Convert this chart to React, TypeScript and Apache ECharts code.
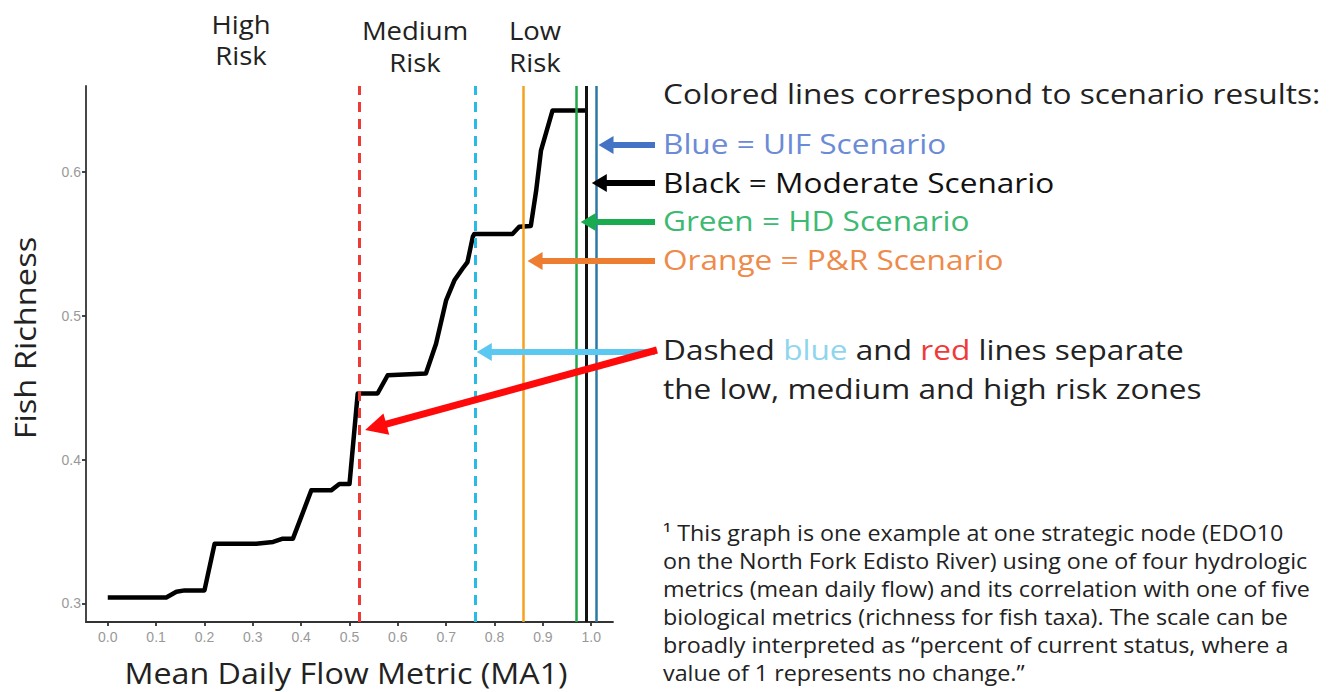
import React, { useEffect, useRef } from "react";
import * as echarts from "echarts";

// ---- Data ----
const flowMetric = [
  0, 0.121, 0.142, 0.159, 0.2, 0.221, 0.307, 0.342, 0.362, 0.383, 0.4, 0.421,
  0.462, 0.479, 0.5, 0.517, 0.521, 0.558, 0.579, 0.658, 0.679, 0.7, 0.717,
  0.734, 0.744, 0.755, 0.758, 0.837, 0.851, 0.875, 0.886, 0.896, 0.92, 0.992,
];
const fishRichness = [
  0.304, 0.304, 0.308, 0.309, 0.309, 0.3415, 0.3415, 0.3427, 0.345, 0.345,
  0.36, 0.3786, 0.3786, 0.383, 0.383, 0.446, 0.446, 0.446, 0.4587, 0.46,
  0.4807, 0.511, 0.5248, 0.533, 0.5375, 0.555, 0.557, 0.557, 0.562, 0.5626,
  0.587, 0.615, 0.643, 0.643,
];
const xTickValues = [0, 0.1, 0.2, 0.3, 0.4, 0.5, 0.6, 0.7, 0.8, 0.9, 1.0];
const yTickValues = [0.3, 0.4, 0.5, 0.6];
// risk-zone thresholds: high/medium (red dashed), medium/low (blue dashed)
const riskThresholds = [0.522, 0.755];
const riskColors = ["#ee3a36", "#2bb9e6"];
// scenario results (vertical solid lines)
const scenarioNames = ["P&R", "HD", "Moderate", "UIF"];
const scenarioValues = [0.86, 0.97, 0.995, 1.015];
const scenarioLineColors = ["#f5a21f", "#22a84a", "#111111", "#2c78a6"];

const FONT = "'Open Sans', 'Noto Sans', sans-serif";

function arrowEls(
  x1: number,
  y1: number,
  x2: number,
  y2: number,
  color: string,
  width: number,
  headLen: number,
  headHalf: number
) {
  const dx = x2 - x1;
  const dy = y2 - y1;
  const len = Math.sqrt(dx * dx + dy * dy);
  const ux = dx / len;
  const uy = dy / len;
  const bx = x2 - ux * headLen;
  const by = y2 - uy * headLen;
  const px = -uy;
  const py = ux;
  return [
    {
      type: "line",
      silent: true,
      z: 100,
      shape: { x1, y1, x2: bx + ux * 2, y2: by + uy * 2 },
      style: { stroke: color, lineWidth: width, lineCap: "butt" },
    },
    {
      type: "polygon",
      silent: true,
      z: 100,
      shape: {
        points: [
          [x2, y2],
          [bx + px * headHalf, by + py * headHalf],
          [bx - px * headHalf, by - py * headHalf],
        ],
      },
      style: { fill: color },
    },
  ];
}

function textEl(
  text: string,
  x: number,
  y: number,
  fontSize: number,
  fill: string,
  align: string = "left",
  extra: any = {},
  el: any = {}
) {
  return {
    type: "text",
    silent: true,
    x,
    y,
    z: 100,
    ...el,
    style: {
      text,
      fontSize,
      fontFamily: FONT,
      fill,
      align,
      verticalAlign: "middle",
      ...extra,
    },
  };
}

export default function App() {
  const ref = useRef<HTMLDivElement>(null);

  useEffect(() => {
    if (!ref.current) return;
    const chart = echarts.init(ref.current, undefined, { renderer: "svg" });

    const lineData = flowMetric.map((x, i) => [x, fishRichness[i]]);

    const markData: any[] = [];
    riskThresholds.forEach((v, i) => {
      markData.push({
        xAxis: v,
        lineStyle: { color: riskColors[i], width: 3, type: [10, 7] },
      });
    });
    scenarioValues.forEach((v, i) => {
      markData.push({
        name: scenarioNames[i],
        xAxis: v,
        lineStyle: {
          color: scenarioLineColors[i],
          width: i === 2 ? 3 : 2.5,
          type: "solid",
        },
      });
    });

    const axisLineStyle = { color: "#333333", width: 1.8 };
    const tickLabel = {
      color: "#999999",
      fontSize: 14,
      fontFamily: "'Liberation Sans', Arial, sans-serif",
    };

    chart.setOption({
      animation: false,
      backgroundColor: "#ffffff",
      grid: { left: 86, right: 719, top: 86, bottom: 70 },
      xAxis: {
        type: "value",
        min: -0.045,
        max: 1.045,
        axisLine: { show: true, onZero: false, lineStyle: axisLineStyle },
        axisTick: {
          show: true,
          length: 4,
          customValues: xTickValues,
          lineStyle: axisLineStyle,
        },
        axisLabel: {
          customValues: xTickValues,
          formatter: (v: number) => v.toFixed(1),
          margin: 8,
          ...tickLabel,
        },
        splitLine: { show: false },
      },
      yAxis: {
        type: "value",
        min: 0.287,
        max: 0.66,
        axisLine: { show: true, onZero: false, lineStyle: axisLineStyle },
        axisTick: {
          show: true,
          length: 4,
          customValues: yTickValues,
          lineStyle: axisLineStyle,
        },
        axisLabel: {
          customValues: yTickValues,
          formatter: (v: number) => v.toFixed(1),
          margin: 5,
          ...tickLabel,
        },
        splitLine: { show: false },
      },
      series: [
        {
          type: "line",
          name: "Fish Richness",
          data: lineData,
          showSymbol: false,
          symbol: "none",
          z: 3,
          lineStyle: { color: "#000000", width: 4.5, join: "round" },
          markLine: {
            silent: true,
            symbol: ["none", "none"],
            label: { show: false },
            z: 4,
            data: markData,
          },
        },
      ],
    });

    const px = (x: number, y: number) =>
      chart.convertToPixel({ gridIndex: 0 }, [x, y]) as number[];
    const redX = px(riskThresholds[0], 0.4)[0];
    const blueX = px(riskThresholds[1], 0.4)[0];
    const sx = scenarioValues.map((v) => px(v, 0.4)[0]);

    const wide = { scaleX: 1.17 };
    const arrowStart = 655;
    const graphics: any[] = [
      // axis titles
      textEl(
        "Mean Daily Flow Metric (MA1)",
        346,
        672,
        30,
        "#222",
        "center",
        { lineHeight: 30 },
        { scaleX: 1.075 }
      ),
      textEl("Fish Richness", 25, 338, 29, "#222", "center", { lineHeight: 30 }, {
        rotation: Math.PI / 2,
        scaleX: 1.125,
      }),
      // risk-zone labels
      textEl("High\nRisk", 241, 40, 25, "#222", "center", { lineHeight: 31 }, { scaleX: 1.1 }),
      textEl("Medium\nRisk", 415, 46, 25, "#222", "center", { lineHeight: 32 }, { scaleX: 1.1 }),
      textEl("Low\nRisk", 535, 46, 25, "#222", "center", { lineHeight: 32 }, { scaleX: 1.1 }),
      // explanation text
      textEl("Colored lines correspond to scenario results:", 663, 94, 27, "#222", "left", {}, wide),
      textEl("Blue = UIF Scenario", 663, 144, 27, "#6b8bd6", "left", {}, wide),
      textEl("Black = Moderate Scenario", 663, 183, 27, "#111", "left", {}, wide),
      textEl("Green = HD Scenario", 663, 221, 27, "#3dba72", "left", {}, wide),
      textEl("Orange = P&R Scenario", 663, 260, 27, "#ee8a4a", "left", {}, wide),
      {
        type: "text",
        silent: true,
        x: 663,
        y: 350,
        z: 100,
        scaleX: 1.17,
        style: {
          text: "{a|Dashed }{b|blue}{a| and }{c|red}{a| lines separate}",
          fontSize: 27,
          fontFamily: FONT,
          fill: "#222",
          align: "left",
          verticalAlign: "middle",
          rich: {
            a: { fontSize: 27, fontFamily: FONT, fill: "#222", color: "#222" },
            b: { fontSize: 27, fontFamily: FONT, fill: "#8fd5ee", color: "#8fd5ee" },
            c: { fontSize: 27, fontFamily: FONT, fill: "#f03a3a", color: "#f03a3a" },
          },
        },
      },
      textEl("the low, medium and high risk zones", 663, 389, 27, "#222", "left", {}, wide),
      // footnote
      textEl(
        "¹ This graph is one example at one strategic node (EDO10\n" +
          "on the North Fork Edisto River) using one of four hydrologic\n" +
          "metrics (mean daily flow) and its correlation with one of five\n" +
          "biological metrics (richness for fish taxa). The scale can be\n" +
          "broadly interpreted as \u201Cpercent of current status, where a\n" +
          "value of 1 represents no change.\u201D",
        663,
        602,
        21,
        "#222",
        "left",
        { lineHeight: 28 },
        { scaleX: 1.11 }
      ),
      // arrows
      ...arrowEls(arrowStart, 145, sx[3] + 0, 145, "#4472c4", 6, 15, 9),
      ...arrowEls(arrowStart, 183, sx[2] + 3, 183, "#000000", 6, 15, 9),
      ...arrowEls(arrowStart, 222, sx[1] + 4, 222, "#1aab50", 6, 15, 9),
      ...arrowEls(arrowStart, 261, sx[0] + 4, 261, "#ed7d31", 6, 15, 9),
      ...arrowEls(arrowStart, 352, blueX + 4, 352, "#5bc8f2", 6, 15, 9),
      ...arrowEls(657, 350, redX + 5, 430, "#ff0a0a", 7, 22, 11),
    ];

    chart.setOption({ graphic: graphics });

    return () => chart.dispose();
  }, []);

  return (
    <div
      ref={ref}
      style={{
        position: "absolute",
        left: 0,
        top: 0,
        width: 1332,
        height: 692,
        background: "#fff",
      }}
    />
  );
}
